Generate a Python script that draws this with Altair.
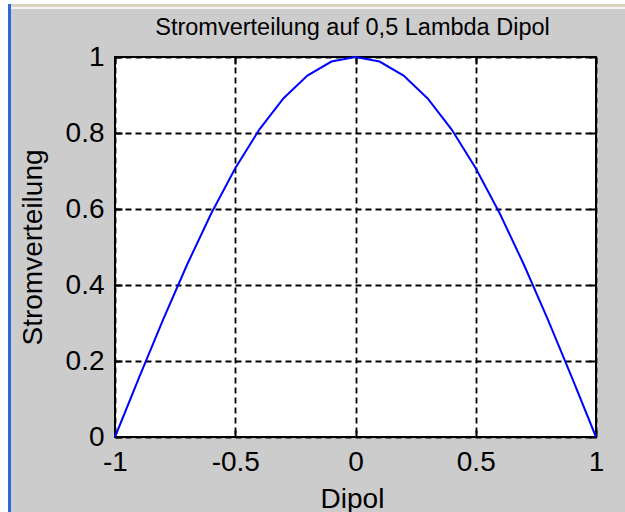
import altair as alt
import pandas as pd

# ---- data ----
dipol = [-1.0, -0.9, -0.8, -0.7, -0.6, -0.5, -0.4, -0.3, -0.2, -0.1, 0.0,
         0.1, 0.2, 0.3, 0.4, 0.5, 0.6, 0.7, 0.8, 0.9, 1.0]
strom = [0.0, 0.156, 0.309, 0.454, 0.588, 0.707, 0.809, 0.891, 0.951, 0.988, 1.0,
         0.988, 0.951, 0.891, 0.809, 0.707, 0.588, 0.454, 0.309, 0.156, 0.0]
x_ticks = [-1, -0.5, 0, 0.5, 1]
y_ticks = [0, 0.2, 0.4, 0.6, 0.8, 1]
title_text = "Stromverteilung auf 0,5 Lambda Dipol"
x_title = "Dipol"
y_title = "Stromverteilung"

df = pd.DataFrame({"Dipol": dipol, "Strom": strom})

W, H = 481, 380
FONT = "Liberation Sans"
TICK_LEN = 7

xscale = alt.Scale(domain=[-1, 1], nice=False, zero=False)
yscale = alt.Scale(domain=[0, 1], nice=False, zero=False)

lab = "'' + datum.value"

grid_kw = dict(grid=True, gridDash=[6, 4], gridColor="black", gridWidth=1.8, gridOpacity=1)

base = alt.Chart(df)

main = base.mark_line(color="#0000ff", strokeWidth=2).encode(
    x=alt.X("Dipol:Q", scale=xscale,
            axis=alt.Axis(orient="bottom", values=x_ticks, labelExpr=lab, title=x_title,
                          ticks=False, tickSize=0, domain=False,
                          labelFont=FONT, labelFontSize=28, labelColor="black",
                          labelPadding=11, labelFlush=False,
                          titleFont=FONT, titleFontSize=28, titleFontWeight="normal",
                          titleColor="black", titleX=237, titleY=70,
                          titleAlign="center", titleBaseline="alphabetic", **grid_kw)),
    y=alt.Y("Strom:Q", scale=yscale,
            axis=alt.Axis(orient="left", values=y_ticks, labelExpr=lab, title=y_title,
                          ticks=False, tickSize=0, domain=False,
                          labelFont=FONT, labelFontSize=28, labelColor="black",
                          labelPadding=11, labelFlush=False,
                          titleFont=FONT, titleFontSize=28, titleFontWeight="normal",
                          titleColor="black", titleX=-74, titleY=190, titleAngle=-90,
                          titleAlign="center", titleBaseline="alphabetic", **grid_kw)),
)

def tick_axis(orient, values):
    return alt.Axis(orient=orient, values=values, offset=-TICK_LEN, tickSize=TICK_LEN,
                    ticks=True, tickColor="black", tickWidth=2, labels=False,
                    grid=False, domain=False, title=None)

ticks_bl = base.mark_line(strokeOpacity=0).encode(
    x=alt.X("Dipol:Q", scale=xscale, axis=tick_axis("bottom", x_ticks)),
    y=alt.Y("Strom:Q", scale=yscale, axis=tick_axis("left", y_ticks)),
)
ticks_tr = base.mark_line(strokeOpacity=0).encode(
    x=alt.X("Dipol:Q", scale=xscale, axis=tick_axis("top", x_ticks)),
    y=alt.Y("Strom:Q", scale=yscale, axis=tick_axis("right", y_ticks)),
)

# window chrome (left blue border and top strip)
deco_df = pd.DataFrame({"k": [0]})
deco = alt.Chart(deco_df)
left_white = deco.mark_rect(color="white").encode(
    x=alt.value(-115), x2=alt.value(-107), y=alt.value(-57), y2=alt.value(H + 75))
left_blue = deco.mark_rect(color="#2f66d8").encode(
    x=alt.value(-107), x2=alt.value(-104), y=alt.value(-53), y2=alt.value(H + 75))
top_white = deco.mark_rect(color="white").encode(
    x=alt.value(-107), x2=alt.value(W + 29), y=alt.value(-57), y2=alt.value(-53))
top_beige = deco.mark_rect(color="#d8d4c0").encode(
    x=alt.value(-104), x2=alt.value(W + 29), y=alt.value(-53), y2=alt.value(-50))
top_white2 = deco.mark_rect(color="#f4f4f0").encode(
    x=alt.value(-104), x2=alt.value(W + 29), y=alt.value(-50), y2=alt.value(-48))

chart = alt.layer(
    left_white, left_blue, top_white, top_beige, top_white2,
    main, ticks_bl, ticks_tr
).resolve_axis(
    x="independent", y="independent"
).properties(
    width=W, height=H,
    title=alt.TitleParams(title_text, font=FONT, fontSize=23.5, fontWeight="normal",
                          color="black", anchor="middle", baseline="alphabetic",
                          offset=0, dy=58, dx=-3),
    autosize=alt.AutoSizeParams(type="none"),
    padding={"left": 115, "top": 57, "right": 29, "bottom": 75},
    background="#cccccc",
).configure_view(
    stroke="black", strokeWidth=2, fill="white"
)

chart.save("out.html", embed_options={"renderer": "svg", "actions": False})
